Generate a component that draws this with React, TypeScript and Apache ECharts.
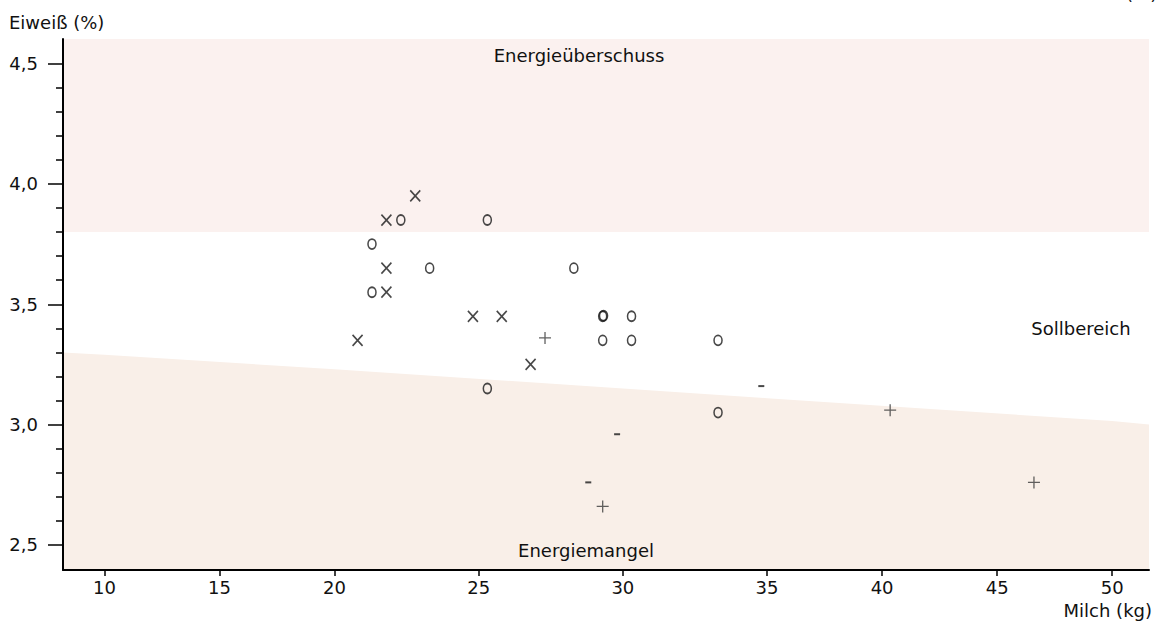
import React, { useEffect, useRef } from "react";
import * as echarts from "echarts";

// ---- axis ticks ----
const MILK_TICKS = [10, 15, 20, 25, 30, 35, 40, 45, 50];
const PROTEIN_TICKS = [2.5, 3.0, 3.5, 4.0, 4.5];
const PROTEIN_MINOR_TICKS = [2.6, 2.7, 2.8, 2.9, 3.1, 3.2, 3.3, 3.4, 3.6, 3.7, 3.8, 3.9, 4.1, 4.2, 4.3, 4.4];

// the reference's milk axis is not uniform: 20–35 is drawn wider than the rest
const MILK_SCALE_KNOTS = [10, 20, 35, 50];
const AXIS_SCALE_KNOTS = [10, 20, 38.8, 53.8];

const MILK_MIN = 8.2;
const MILK_MAX = 51.6;
const PROTEIN_MIN = 2.396;
const PROTEIN_MAX = 4.602;

// ---- background zones ----
const SURPLUS_FLOOR = 3.8;
const DEFICIT_MILK = [8.2, 10, 20, 35, 50, 51.6];
const DEFICIT_PROTEIN = [3.3, 3.29, 3.23, 3.11, 3.015, 3.0];

// ---- observations (milk kg, protein %) ----
const X_MILK = [22.8, 21.8, 21.8, 21.8, 20.8, 24.8, 25.8, 26.8];
const X_PROTEIN = [3.95, 3.85, 3.65, 3.55, 3.35, 3.45, 3.45, 3.25];

const O_MILK = [22.3, 25.3, 21.3, 23.3, 28.3, 21.3, 29.3, 29.33, 30.3, 29.3, 30.3, 33.3, 25.3, 33.3];
const O_PROTEIN = [3.85, 3.85, 3.75, 3.65, 3.65, 3.55, 3.45, 3.452, 3.45, 3.35, 3.35, 3.35, 3.15, 3.05];

const PLUS_MILK = [27.3, 40.35, 46.6, 29.3];
const PLUS_PROTEIN = [3.36, 3.06, 2.76, 2.66];

const MINUS_MILK = [34.8, 29.8, 28.8];
const MINUS_PROTEIN = [3.16, 2.96, 2.76];

const FONT = '"DejaVu Sans", "Liberation Sans", sans-serif';

function toAxis(x: number): number {
  const k = MILK_SCALE_KNOTS;
  const a = AXIS_SCALE_KNOTS;
  let i = 0;
  if (x <= k[0]) i = 0;
  else if (x >= k[k.length - 1]) i = k.length - 2;
  else {
    while (i < k.length - 2 && x > k[i + 1]) i++;
  }
  return a[i] + ((x - k[i]) * (a[i + 1] - a[i])) / (k[i + 1] - k[i]);
}

function fromAxis(u: number): number {
  const k = MILK_SCALE_KNOTS;
  const a = AXIS_SCALE_KNOTS;
  let i = 0;
  if (u <= a[0]) i = 0;
  else if (u >= a[a.length - 1]) i = a.length - 2;
  else {
    while (i < a.length - 2 && u > a[i + 1]) i++;
  }
  return k[i] + ((u - a[i]) * (k[i + 1] - k[i])) / (a[i + 1] - a[i]);
}

const pairs = (xs: number[], ys: number[]) => xs.map((x, i) => [toAxis(x), ys[i]]);

export default function App() {
  const ref = useRef<HTMLDivElement>(null);

  useEffect(() => {
    if (!ref.current) return;
    const chart = echarts.init(ref.current, null, { renderer: "svg" });

    const markerBase = {
      type: "scatter" as const,
      silent: true,
      z: 5,
    };

    chart.setOption({
      animation: false,
      backgroundColor: "#ffffff",
      grid: { left: 63, right: 8, top: 39, bottom: 58, containLabel: false },
      xAxis: {
        type: "value",
        z: 10,
        min: toAxis(MILK_MIN),
        max: toAxis(MILK_MAX),
        axisLine: { show: true, onZero: false, lineStyle: { color: "#000", width: 2 } },
        axisTick: {
          show: true,
          customValues: MILK_TICKS.map(toAxis),
          length: 6,
          lineStyle: { color: "#000", width: 1.5 },
        },
        axisLabel: {
          show: true,
          customValues: MILK_TICKS.map(toAxis),
          formatter: (v: number) => String(Math.round(fromAxis(v))),
          fontSize: 18,
          fontFamily: FONT,
          color: "#111",
          margin: 8,
        },
        splitLine: { show: false },
      },
      yAxis: [
        {
          type: "value",
          position: "left",
          z: 10,
          min: PROTEIN_MIN,
          max: PROTEIN_MAX,
          axisLine: { show: true, onZero: false, lineStyle: { color: "#000", width: 2 } },
          axisTick: {
            show: true,
            customValues: PROTEIN_TICKS,
            length: 15,
            lineStyle: { color: "#000", width: 1.5 },
          },
          axisLabel: {
            show: true,
            customValues: PROTEIN_TICKS,
            formatter: (v: number) => v.toFixed(1).replace(".", ","),
            fontSize: 18,
            fontFamily: FONT,
            color: "#111",
            margin: 25,
          },
          splitLine: { show: false },
        },
        {
          type: "value",
          position: "left",
          z: 10,
          min: PROTEIN_MIN,
          max: PROTEIN_MAX,
          axisLine: { show: false },
          axisTick: {
            show: true,
            customValues: PROTEIN_MINOR_TICKS,
            length: 7,
            lineStyle: { color: "#000", width: 1.5 },
          },
          axisLabel: { show: false },
          splitLine: { show: false },
        },
      ],
      graphic: [
        {
          type: "text",
          x: 9,
          y: 22,
          style: { text: "Eiweiß (%)", font: `18px ${FONT}`, fill: "#111", align: "left", verticalAlign: "middle" },
        },
        {
          type: "text",
          x: 1126,
          y: -16,
          style: { text: "(%)", font: `18px ${FONT}`, fill: "#111", align: "left", verticalAlign: "top" },
        },
        {
          type: "text",
          x: 579,
          y: 55,
          z: 10,
          style: { text: "Energieüberschuss", font: `18px ${FONT}`, fill: "#111", align: "center", verticalAlign: "middle" },
        },
        {
          type: "text",
          x: 1081,
          y: 328,
          z: 10,
          style: { text: "Sollbereich", font: `18px ${FONT}`, fill: "#111", align: "center", verticalAlign: "middle" },
        },
        {
          type: "text",
          x: 586,
          y: 550,
          z: 10,
          style: { text: "Energiemangel", font: `18px ${FONT}`, fill: "#111", align: "center", verticalAlign: "middle" },
        },
        {
          type: "text",
          x: 1152,
          y: 610,
          style: { text: "Milch (kg)", font: `18px ${FONT}`, fill: "#111", align: "right", verticalAlign: "middle" },
        },
      ],
      series: [
        {
          type: "line",
          silent: true,
          z: 1,
          symbol: "none",
          data: [
            [toAxis(MILK_MIN), SURPLUS_FLOOR],
            [toAxis(MILK_MAX), SURPLUS_FLOOR],
          ],
          lineStyle: { width: 0, opacity: 0 },
          areaStyle: { color: "#fbf1ef", opacity: 1, origin: "end" },
        },
        {
          type: "line",
          silent: true,
          z: 1,
          symbol: "none",
          data: pairs(DEFICIT_MILK, DEFICIT_PROTEIN),
          lineStyle: { width: 0, opacity: 0 },
          areaStyle: { color: "#f9efe8", opacity: 1, origin: "start" },
        },
        {
          ...markerBase,
          data: pairs(X_MILK, X_PROTEIN),
          symbol: "path://M0,0L10,11M10,0L0,11",
          symbolSize: [10, 11],
          itemStyle: { color: "none", borderColor: "#1a1a1a", borderWidth: 1.7 },
        },
        {
          ...markerBase,
          data: pairs(O_MILK, O_PROTEIN),
          symbol: "path://M4,0A4,5.5,0,1,1,4,11A4,5.5,0,1,1,4,0Z",
          symbolSize: [8, 10],
          itemStyle: { color: "none", borderColor: "#1a1a1a", borderWidth: 1.7 },
        },
        {
          ...markerBase,
          data: pairs(PLUS_MILK, PLUS_PROTEIN),
          symbol: "path://M6,0L6,12M0,6L12,6",
          symbolSize: [12, 12],
          itemStyle: { color: "none", borderColor: "#3a3a3a", borderWidth: 1.3 },
        },
        {
          ...markerBase,
          data: pairs(MINUS_MILK, MINUS_PROTEIN),
          symbol: "rect",
          symbolSize: [6, 2],
          itemStyle: { color: "#1a1a1a" },
        },
      ],
    });

    return () => {
      chart.dispose();
    };
  }, []);

  return (
    <div
      ref={ref}
      style={{ position: "fixed", left: 0, top: 0, width: 1157, height: 628, background: "#fff" }}
    />
  );
}
